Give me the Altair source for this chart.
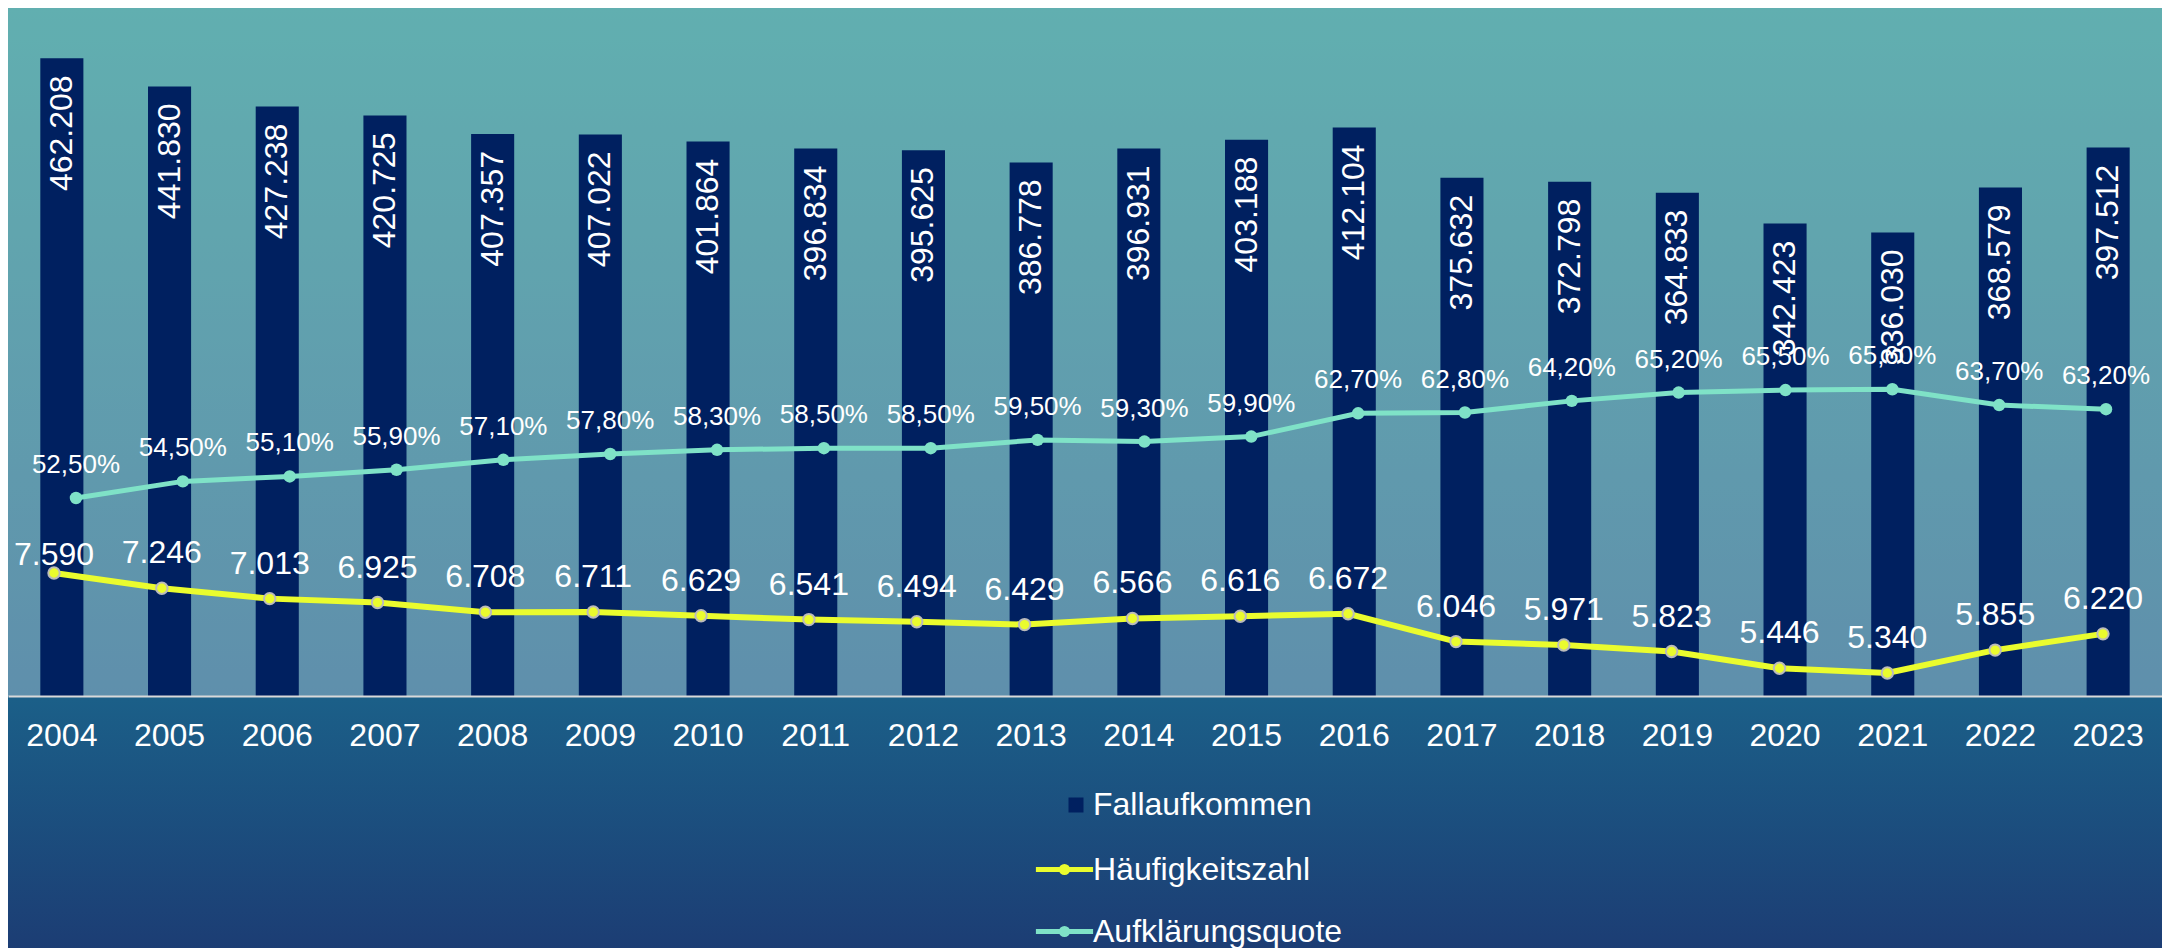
import altair as alt
import pandas as pd

# ---------------- data ----------------
years = [str(y) for y in range(2004, 2024)]
fallaufkommen = [462208, 441830, 427238, 420725, 407357, 407022, 401864, 396834, 395625, 386778,
                 396931, 403188, 412104, 375632, 372798, 364833, 342423, 336030, 368579, 397512]
haeufigkeitszahl = [7590, 7246, 7013, 6925, 6708, 6711, 6629, 6541, 6494, 6429,
                    6566, 6616, 6672, 6046, 5971, 5823, 5446, 5340, 5855, 6220]
aufklaerungsquote = [52.5, 54.5, 55.1, 55.9, 57.1, 57.8, 58.3, 58.5, 58.5, 59.5,
                     59.3, 59.9, 62.7, 62.8, 64.2, 65.2, 65.5, 65.6, 63.7, 63.2]
series_names = ["Fallaufkommen", "Häufigkeitszahl", "Aufklärungsquote"]


def de_int(v):
    return f"{v:,}".replace(",", ".")


def de_pct(v):
    return f"{v:.2f}".replace(".", ",") + "%"


bars_df = pd.DataFrame({"Jahr": years, "Wert": fallaufkommen, "Serie": series_names[0],
                        "Label": [de_int(v) for v in fallaufkommen]})
hz_df = pd.DataFrame({"Jahr": years, "Wert": haeufigkeitszahl, "Serie": series_names[1],
                      "Label": [de_int(v) for v in haeufigkeitszahl]})
aq_df = pd.DataFrame({"Jahr": years, "Wert": aufklaerungsquote, "Serie": series_names[2],
                      "Label": [de_pct(v) for v in aufklaerungsquote]})

# ---------------- style ----------------
FONT = "Liberation Sans"
W, H = 2154, 688
TOTAL_H = 940
NAVY = "#002060"
YELLOW = "#EAFC2E"
TEAL = "#7FE2C7"
LINE_SYMBOL = "M-1.1,0L1.1,0M0.12,0A0.12,0.12,0,1,1,-0.12,0A0.12,0.12,0,1,1,0.12,0Z"

one = pd.DataFrame({"k": [0]})

background = alt.Chart(one).mark_rect(
    fill=alt.Gradient(
        gradient="linear",
        stops=[
            alt.GradientStop(color="#1E8D8E", offset=0),
            alt.GradientStop(color="#1B5F88", offset=0.736),
            alt.GradientStop(color="#1C3D74", offset=1),
        ],
        x1=0, x2=0, y1=0, y2=1,
    )
).encode(x=alt.value(0), x2=alt.value(W), y=alt.value(0), y2=alt.value(TOTAL_H))

plot_overlay = alt.Chart(one).mark_rect(fill="white", fillOpacity=0.3).encode(
    x=alt.value(0), x2=alt.value(W), y=alt.value(0), y2=alt.value(H)
)

# ---------------- bars ----------------
xb = alt.X(
    "Jahr:O", sort=years,
    scale=alt.Scale(type="band", paddingInner=0.6, paddingOuter=0.3),
    axis=alt.Axis(title=None, labelAngle=0, labelFontSize=32, labelColor="white", labelFont=FONT,
                  ticks=False, tickSize=0, labelPadding=24, domainColor="#D9D9D9",
                  domainWidth=2, grid=False, zindex=1),
)
yb = alt.Y("Wert:Q", scale=alt.Scale(domain=[0, 498700], nice=False, zero=True), axis=None)

bars = alt.Chart(bars_df).mark_bar(opacity=1).encode(
    x=xb, y=yb,
    color=alt.Color("Serie:N", scale=alt.Scale(domain=[series_names[0]], range=[NAVY]),
                    legend=alt.Legend(title=None, orient="none", legendX=1052, legendY=781,
                                      symbolType="square", symbolSize=225, symbolStrokeWidth=0,
                                      labelFontSize=32, labelColor="white", labelFont=FONT,
                                      labelOffset=1, labelLimit=600, padding=0)),
)
bar_text = alt.Chart(bars_df).mark_text(
    angle=270, align="right", baseline="middle", dx=-17, fontSize=32, color="white", font=FONT
).encode(x=xb, y=yb, text="Label:N")
bar_layer = alt.layer(bars, bar_text)

# ---------------- Häufigkeitszahl ----------------
xh = alt.X("Jahr:O", sort=years, scale=alt.Scale(type="point", range=[46, 2095], padding=0), axis=None)
yh = alt.Y("Wert:Q", scale=alt.Scale(domain=[4822, 20303], nice=False, zero=False), axis=None)

hz_line = alt.Chart(hz_df).mark_line(strokeWidth=6).encode(
    x=xh, y=yh,
    color=alt.Color("Serie:N", scale=alt.Scale(domain=[series_names[1]], range=[YELLOW]),
                    legend=alt.Legend(title=None, orient="none", legendX=1028, legendY=833,
                                      symbolType=LINE_SYMBOL, symbolSize=2704, symbolStrokeWidth=5,
                                      symbolFillColor=YELLOW, labelFontSize=32, labelColor="white",
                                      labelFont=FONT, labelOffset=0, labelLimit=600, padding=0)),
)
hz_pts = alt.Chart(hz_df).mark_circle(color=YELLOW, stroke="#BBBBBB", strokeWidth=2, size=130,
                                      opacity=1).encode(x=xh, y=yh)
hz_text_first = alt.Chart(hz_df).transform_filter(alt.datum.Jahr == years[0]).mark_text(
    baseline="alphabetic", dy=-8, fontSize=32, color="white", font=FONT
).encode(x=xh, y=yh, text="Label:N")
hz_text_rest = alt.Chart(hz_df).transform_filter(alt.datum.Jahr != years[0]).mark_text(
    baseline="alphabetic", dy=-25, fontSize=32, color="white", font=FONT
).encode(x=xh, y=yh, text="Label:N")
hz_layer = alt.layer(hz_line, hz_pts, hz_text_first, hz_text_rest)

# ---------------- Aufklärungsquote ----------------
xa = alt.X("Jahr:O", sort=years, scale=alt.Scale(type="point", range=[68, 2098], padding=0), axis=None)
ya = alt.Y("Wert:Q", scale=alt.Scale(domain=[28.64, 111.54], nice=False, zero=False), axis=None)

aq_line = alt.Chart(aq_df).mark_line(strokeWidth=5).encode(
    x=xa, y=ya,
    color=alt.Color("Serie:N", scale=alt.Scale(domain=[series_names[2]], range=[TEAL]),
                    legend=alt.Legend(title=None, orient="none", legendX=1028, legendY=895,
                                      symbolType=LINE_SYMBOL, symbolSize=2704, symbolStrokeWidth=5,
                                      symbolFillColor=TEAL, labelFontSize=32, labelColor="white",
                                      labelFont=FONT, labelOffset=0, labelLimit=600, padding=0)),
)
aq_pts = alt.Chart(aq_df).mark_circle(color=TEAL, size=155, opacity=1).encode(x=xa, y=ya)
aq_text = alt.Chart(aq_df).mark_text(baseline="alphabetic", dy=-25, fontSize=26, color="white",
                                     font=FONT).encode(x=xa, y=ya, text="Label:N")
aq_layer = alt.layer(aq_line, aq_pts, aq_text)

chart = (
    alt.layer(background, plot_overlay, bar_layer, hz_layer, aq_layer)
    .resolve_scale(x="independent", y="independent", color="independent")
    .properties(
        width=W, height=H,
        autosize=alt.AutoSizeParams(type="none"),
        padding={"left": 0, "top": 0, "right": 0, "bottom": TOTAL_H - H},
    )
    .configure_view(stroke=None)
    .configure(font=FONT)
)

chart.save("out.html", embed_options={"renderer": "svg", "actions": False})
